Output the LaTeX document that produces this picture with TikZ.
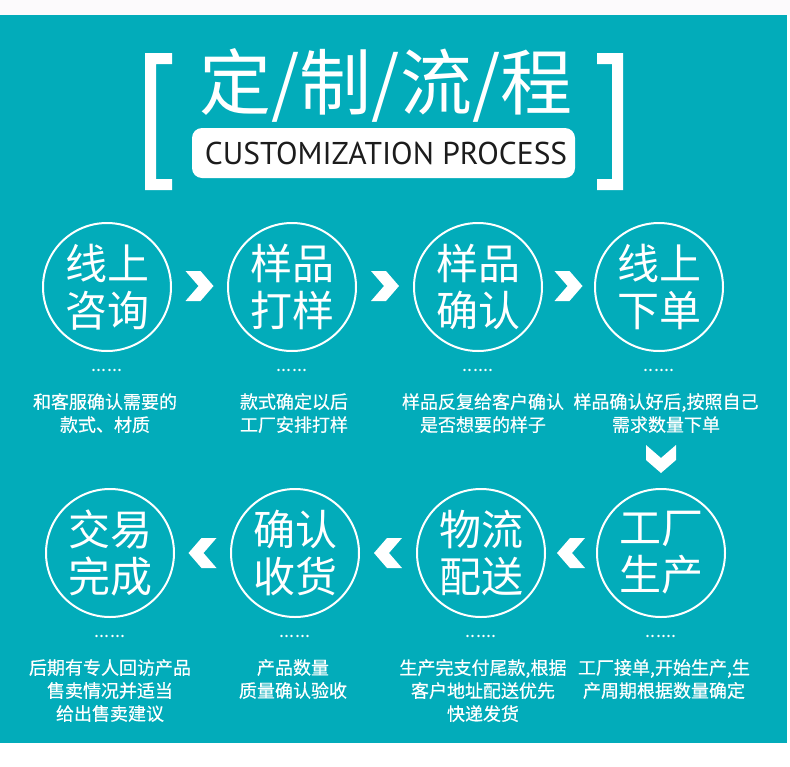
\documentclass[tikz,border=0pt]{standalone}
\usepackage{fontspec}
\newfontfamily\cjk{Noto Sans CJK SC}
\newfontfamily\cjkmed[FakeBold=0.5]{Noto Sans CJK SC}
\newfontfamily\entitle{PT Sans}
\usetikzlibrary{calc}
\definecolor{tealbg}{RGB}{2,172,186}
\definecolor{offw}{RGB}{252,250,252}
\definecolor{darktxt}{RGB}{28,28,28}
\tikzset{
  stepcirc/.style={circle, draw=white, line width=2pt, minimum size=128pt, inner sep=0pt,
    text=white, align=center, font=\cjk\fontsize{42}{47}\selectfont},
  dotsty/.style={text=white, inner sep=0pt, font=\cjk\fontsize{18}{18}\selectfont},
  desc/.style={text=white, inner sep=0pt, anchor=north, align=center,
    font=\cjkmed\fontsize{18}{23}\selectfont},
  chevr/.pic={\fill[white] (-14,-15) -- (1,-15) -- (14,0) -- (1,15) -- (-14,15) -- (-1,0) -- cycle;}
}
\begin{document}
\begin{tikzpicture}[x=1pt,y=-1pt]
\useasboundingbox (0,0) rectangle (790,766);
\fill[white] (0,0) rectangle (790,766);
\fill[offw] (0,0) rectangle (790,15);
\fill[tealbg] (0,15) rectangle (787,743);
% brackets
\fill[white] (145,53) -- (172,53) -- (172,64) -- (156,64) -- (156,179) -- (172,179) -- (172,190) -- (145,190) -- cycle;
\fill[white] (623,53) -- (597,53) -- (597,64) -- (612,64) -- (612,179) -- (597,179) -- (597,190) -- (623,190) -- cycle;
% title
\node[text=white, inner sep=0pt, font=\cjk\fontsize{72}{72}\selectfont] (title) at (386,85) {定/制/流/程};
\node[fill=white, rounded corners=10pt, minimum width=383pt, minimum height=50pt, inner sep=0pt] (sub) at (383.5,153) {};
\node[text=darktxt, inner sep=0pt, font=\entitle\fontsize{31.5}{31.5}\selectfont] (subtxt) at (386,153) {CUSTOMIZATION PROCESS};
% row 1
\node[stepcirc] (s1) at (107,287) {线上\\咨询};
\node[stepcirc] (s2) at (292,287) {样品\\打样};
\node[stepcirc] (s3) at (478,287) {样品\\确认};
\node[stepcirc] (s4) at (659,287) {线上\\下单};
% row 2
\node[stepcirc] (s5) at (661,553) {工厂\\生产};
\node[stepcirc] (s6) at (481,553) {物流\\配送};
\node[stepcirc] (s7) at (295,553) {确认\\收货};
\node[stepcirc] (s8) at (110,553) {交易\\完成};
% chevrons
\pic at ($(s1)!0.5!(s2)+(0,-1)$) {chevr};
\pic at ($(s2)!0.5!(s3)+(0,-1)$) {chevr};
\pic at ($(s3)!0.5!(s4)+(0,-1)$) {chevr};
\pic[rotate=-90] at ($(s5)+(0,-94)$) {chevr};
\pic[rotate=180] at ($(s5)!0.5!(s6)$) {chevr};
\pic[rotate=180] at ($(s6)!0.5!(s7)$) {chevr};
\pic[rotate=180] at ($(s7)!0.5!(s8)$) {chevr};
% dots
\foreach \s in {1,...,8} { \node[dotsty] (d\s) at ($(s\s)+(0,83)$) {......}; }
% descriptions
\node[desc] (t1) at ($(s1)+(-2,106)$) {和客服确认需要的\\款式、材质};
\node[desc] (t2) at ($(s2)+(2,106)$) {款式确定以后\\工厂安排打样};
\node[desc] (t3) at ($(s3)+(5,106)$) {样品反复给客户确认\\是否想要的样子};
\node[desc] (t4) at ($(s4)+(7,106)$) {样品确认好后,按照自己\\需求数量下单};
\node[desc] (t5) at ($(s5)+(3,106)$) {工厂接单,开始生产,生\\产周期根据数量确定};
\node[desc] (t6) at ($(s6)+(2,106)$) {生产完支付尾款,根据\\客户地址配送优先\\快递发货};
\node[desc] (t7) at ($(s7)+(-2,106)$) {产品数量\\质量确认验收};
\node[desc] (t8) at ($(s8)+(0,106)$) {后期有专人回访产品\\售卖情况并适当\\给出售卖建议};
\end{tikzpicture}
\end{document}
